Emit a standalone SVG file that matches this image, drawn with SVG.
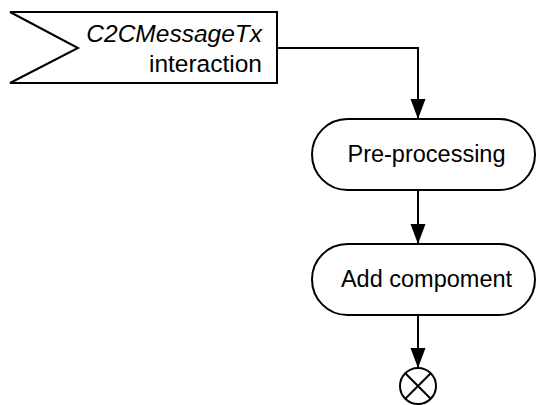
<svg xmlns="http://www.w3.org/2000/svg" width="539" height="405" viewBox="0 0 539 405">
<style>
.shape{fill:#fff;stroke:#000;stroke-width:2}
.conn{fill:none;stroke:#000;stroke-width:2}
.t{font-family:"Liberation Sans",Arial,sans-serif;font-size:23.5px;fill:#000}
.f{font-size:24.5px}
</style>
<defs>
<marker id="arr" markerUnits="userSpaceOnUse" markerWidth="22" markerHeight="16" refX="20" refY="7.5" orient="auto">
<path d="M0,0 L20,7.5 L0,15 Z" fill="#000"/>
</marker>
</defs>
<rect width="539" height="405" fill="#fff"/>
<g id="connectors">
<path class="conn" d="M277 48 H418 V119" marker-end="url(#arr)"/>
<path class="conn" d="M418 190 V244" marker-end="url(#arr)"/>
<path class="conn" d="M418 315 V368" marker-end="url(#arr)"/>
</g>
<g id="interaction">
<path class="shape" d="M10 12 H277 V83 H10 L78 48 Z"/>
<text class="t f" x="262" y="42" text-anchor="end" font-style="italic">C2CMessageTx</text>
<text class="t f" x="262" y="72" text-anchor="end">interaction</text>
</g>
<g id="preprocessing">
<rect class="shape" x="312" y="119" width="223" height="71" rx="35.5" ry="35.5"/>
<text class="t" x="426.5" y="162" text-anchor="middle">Pre-processing</text>
</g>
<g id="addcomponent">
<rect class="shape" x="312" y="244" width="223" height="71" rx="35.5" ry="35.5"/>
<text class="t" x="426.5" y="287" text-anchor="middle">Add compoment</text>
</g>
<g id="end">
<circle class="shape" cx="418" cy="386" r="18"/>
<path class="conn" d="M405.3 373.3 L430.7 398.7 M430.7 373.3 L405.3 398.7"/>
</g>
</svg>
